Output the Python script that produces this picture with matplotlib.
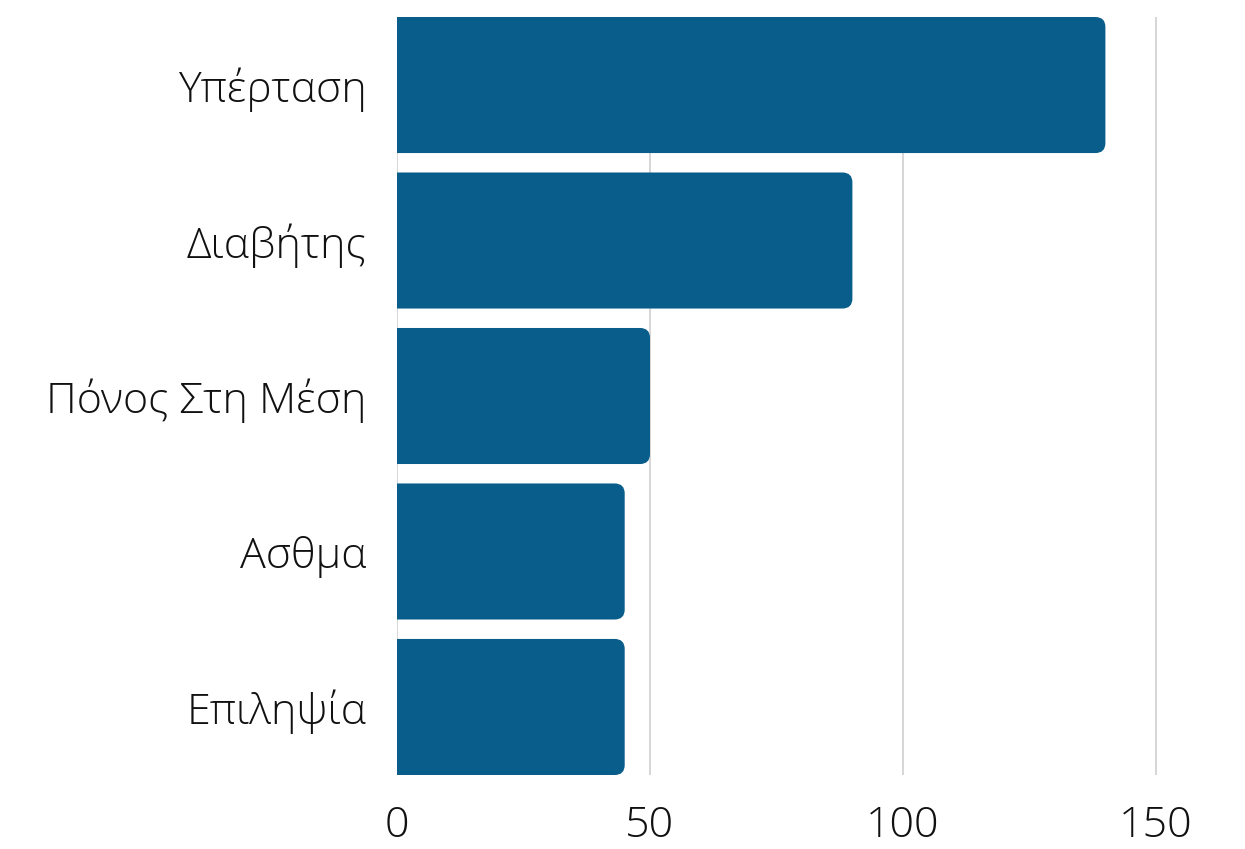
import numpy as np
import matplotlib
matplotlib.use("Agg")
import matplotlib.pyplot as plt
from matplotlib.patches import FancyBboxPatch

# data
conditions = ['Υπέρταση', 'Διαβήτης', 'Πόνος Στη Μέση', 'Ασθμα', 'Επιληψία']
counts = [140, 90, 50, 45, 45]
xticks = [0, 50, 100, 150]

bar_color = '#085d8a'
bar_h = 0.875

plt.rcParams['font.family'] = ['Open Sans', 'DejaVu Sans']
plt.rcParams['font.weight'] = 'light'

fig = plt.figure(figsize=(12.45, 8.49), dpi=100)
ax = fig.add_axes([397/1245, 1 - 775/849, (1160-397)/1245, (775-17)/849])

ypos = np.arange(len(conditions))
ax.set_xlim(0, 150 * (1160-397) / (1156-397))
ax.set_ylim(len(conditions) - 1 + bar_h/2, -bar_h/2)

# plain bars first (invisible) so the scales are set by the library
bars = ax.barh(ypos, counts, height=bar_h, color='none')

# rounded right corners: px per unit in x and y
fig.canvas.draw()
p0 = ax.transData.transform((0, 0))
p1 = ax.transData.transform((1, 1))
xpx = abs(p1[0] - p0[0])
ypx = abs(p1[1] - p0[1])
radius = 10 / xpx
aspect = xpx / ypx

for b in bars:
    x0, y0 = b.get_x(), b.get_y()
    w, h = b.get_width(), b.get_height()
    patch = FancyBboxPatch((x0 - 3 * radius, y0), w + 3 * radius, h,
                           boxstyle=f"round,pad=0,rounding_size={radius}",
                           mutation_aspect=aspect, facecolor=bar_color,
                           edgecolor='none', zorder=3)
    ax.add_patch(patch)

ax.set_yticks(ypos)
ax.set_yticklabels(conditions)
ax.set_xticks(xticks)
ax.tick_params(axis='both', length=0, labelsize=31, colors='#111111')
ax.tick_params(axis='y', pad=22)
ax.tick_params(axis='x', pad=21)
for lab in ax.get_xticklabels() + ax.get_yticklabels():
    lab.set_fontweight('light')

ax.grid(axis='x', color='#cccccc', linewidth=1.1, zorder=0)
ax.set_axisbelow(True)
for s in ax.spines.values():
    s.set_visible(False)

fig.savefig('out.png', dpi=100, facecolor='white')
